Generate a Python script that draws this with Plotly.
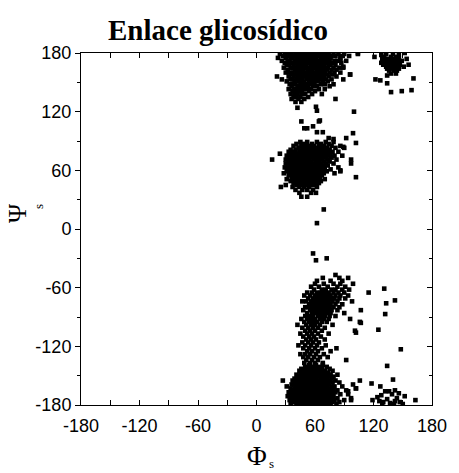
import plotly.graph_objects as go

# Glycosidic torsions (Phi_s, Psi_s) in degrees.
# Dense regions are listed row by row: (psi, [phi, phi, ...]); sparse points as (phi, psi).

top_rows = [
    (179, [24, 29, 33, 36, 40, 42, 46, 49, 51, 55, 58, 60, 64, 67, 71, 74, 79, 84, 90, 104]),
    (177, [27, 31, 34, 38, 43, 45, 48, 53, 57, 62, 65, 69, 72, 77, 81, 88, 95]),
    (175, [22, 30, 35, 37, 41, 44, 47, 50, 52, 56, 59, 61, 66, 70, 73, 76, 86]),
    (172, [26, 32, 34, 39, 42, 46, 48, 51, 54, 57, 60, 63, 65, 68, 71, 75, 80, 83, 92]),
    (170, [29, 36, 40, 44, 49, 53, 55, 58, 62, 67, 70, 73, 78, 87]),
    (168, [31, 33, 38, 42, 45, 47, 51, 56, 59, 61, 64, 66, 69, 74, 76, 81]),
    (165, [28, 35, 37, 40, 43, 46, 50, 52, 55, 58, 60, 63, 67, 71, 73, 79, 85, 89]),
    (163, [32, 39, 42, 45, 48, 53, 57, 62, 65, 69, 72, 77, 82]),
    (160, [30, 34, 37, 41, 44, 47, 49, 52, 55, 59, 61, 64, 68, 70, 75, 80, 86]),
    (158, [36, 40, 43, 46, 51, 54, 57, 60, 63, 66, 72, 78, 96]),
    (156, [21, 33, 38, 42, 45, 48, 50, 53, 56, 59, 62, 65, 69, 74, 82]),
    (153, [26, 35, 37, 41, 44, 47, 52, 55, 58, 61, 64, 67, 71, 77, 89]),
    (151, [31, 39, 43, 46, 49, 54, 57, 60, 63, 68, 73]),
    (148, [34, 37, 40, 45, 48, 51, 55, 59, 66, 70, 79]),
    (146, [36, 42, 44, 47, 50, 53, 58, 62, 75]),
    (143, [33, 38, 41, 45, 49, 52, 56, 64, 70]),
    (141, [37, 40, 43, 47, 54, 60]),
    (138, [35, 39, 42, 46, 50, 57, 67]),
    (135, [38, 41, 45, 53]),
    (133, [36, 43, 49, 81]),
    (130, [40, 46]),
]
top_points = [(42, 124), (61, 125), (62, 121), (100, 120), (96, 158), (89, 166),
              (86, 173), (104, 180)]

mid_rows = [
    (89, [45, 52, 62, 71, 79]),
    (87, [41, 49, 57, 66, 74]),
    (85, [38, 46, 53, 59, 64, 69, 77, 86]),
    (83, [43, 50, 56, 61, 67, 72, 81, 90]),
    (81, [35, 40, 47, 53, 58, 63, 66, 70, 75]),
    (79, [33, 38, 44, 49, 51, 55, 60, 65, 68, 73, 78, 84]),
    (77, [36, 41, 46, 53, 57, 62, 64, 71, 76]),
    (75, [31, 34, 39, 43, 48, 50, 55, 59, 63, 67, 69, 74, 80, 88]),
    (73, [37, 41, 45, 52, 57, 61, 65, 71, 77]),
    (71, [16, 30, 33, 39, 43, 47, 50, 54, 59, 63, 67, 73, 82, 97]),
    (69, [35, 37, 41, 45, 49, 52, 56, 61, 64, 69, 75]),
    (67, [30, 33, 39, 43, 47, 51, 54, 58, 62, 66, 71, 79]),
    (65, [35, 37, 41, 45, 49, 53, 56, 60, 64, 68, 73]),
    (63, [29, 32, 39, 43, 47, 51, 55, 58, 62, 66, 70, 84]),
    (61, [34, 37, 41, 45, 49, 53, 57, 60, 64, 68, 76]),
    (59, [31, 39, 43, 47, 51, 55, 59, 62, 66, 72, 86]),
    (57, [28, 35, 37, 41, 45, 49, 53, 57, 61, 64, 69, 80]),
    (55, [33, 39, 43, 47, 51, 55, 59, 63, 67]),
    (53, [36, 41, 45, 49, 53, 57, 61, 65, 102]),
    (51, [31, 38, 43, 47, 51, 55, 59, 63, 70]),
    (49, [35, 40, 45, 49, 53, 57, 61, 66]),
    (47, [38, 43, 47, 52, 56, 60, 64]),
    (45, [30, 41, 46, 50, 55, 59]),
    (43, [25, 37, 44, 49, 54, 62]),
    (40, [40, 47, 52, 58]),
    (37, [44, 56, 61]),
    (33, [46, 52]),
]
mid_points = [(46, 110), (49, 103), (52, 103), (58, 105), (65, 111), (62, 99), (68, 99),
              (74, 93), (79, 92), (89, 84), (92, 93), (99, 98), (102, 88), (97, 67),
              (86, 60), (69, 20), (62, 6), (24, 77), (64, 110),
              (58, -25), (61, -32), (72, -30)]

low_rows = [
    (-47, [81]),
    (-50, [68, 85, 94]),
    (-53, [62, 76, 88]),
    (-56, [60, 69, 79, 86, 99]),
    (-59, [56, 64, 73, 83, 91]),
    (-62, [59, 67, 71, 77, 81, 88, 95]),
    (-65, [52, 57, 62, 66, 70, 74, 79, 84, 90, 115]),
    (-68, [49, 55, 60, 64, 68, 72, 76, 81, 86, 94]),
    (-71, [53, 58, 62, 65, 69, 73, 77, 80, 85, 91]),
    (-74, [47, 51, 56, 60, 63, 67, 71, 74, 78, 83, 98]),
    (-77, [54, 58, 61, 65, 69, 72, 76, 81, 88]),
    (-80, [50, 53, 57, 60, 64, 67, 71, 75, 79, 85]),
    (-83, [48, 55, 59, 62, 66, 70, 73, 77, 83, 107]),
    (-86, [52, 57, 61, 64, 68, 72, 76, 90]),
    (-89, [50, 54, 58, 63, 67, 70, 75, 81]),
    (-92, [46, 52, 56, 60, 65, 69, 74, 96]),
    (-95, [49, 54, 58, 62, 67, 72, 106]),
    (-98, [42, 51, 56, 60, 65, 78]),
    (-101, [47, 53, 58, 63, 70]),
    (-104, [50, 55, 60, 67, 101]),
    (-107, [45, 52, 57, 63, 74]),
    (-110, [48, 54, 59, 66]),
    (-113, [51, 56, 61, 70]),
    (-116, [47, 53, 58, 64]),
    (-119, [43, 50, 56, 62, 71]),
    (-122, [48, 54, 60, 67, 82]),
    (-125, [52, 57, 63, 76]),
    (-128, [45, 50, 55, 61, 69]),
    (-131, [48, 53, 59, 65, 73]),
    (-134, [51, 57, 63, 92]),
    (-137, [49, 55, 60, 68]),
]
low_points = [(131, -61), (133, -76), (142, -73), (132, -87), (125, -103),
              (107, -96), (102, -106), (148, -123), (134, -140)]

bottom_rows = [
    (-139, [54, 61, 68]),
    (-141, [50, 57, 64, 72]),
    (-143, [46, 53, 59, 62, 67, 75]),
    (-145, [44, 49, 55, 58, 64, 70, 78]),
    (-147, [47, 51, 54, 60, 66, 69, 73]),
    (-149, [41, 45, 50, 53, 57, 62, 65, 71, 76, 83]),
    (-151, [43, 48, 55, 59, 63, 68, 74, 79]),
    (-153, [39, 42, 46, 51, 54, 58, 61, 66, 70, 72, 77]),
    (-155, [27, 37, 44, 48, 50, 53, 57, 60, 64, 67, 71, 75, 81, 106]),
    (-157, [40, 42, 46, 51, 55, 58, 62, 65, 69, 73, 78, 85]),
    (-159, [36, 38, 44, 48, 50, 53, 56, 60, 63, 67, 71, 74, 99]),
    (-161, [31, 41, 43, 46, 51, 55, 58, 61, 65, 69, 72, 77, 80, 88]),
    (-163, [35, 39, 45, 48, 50, 53, 57, 60, 63, 66, 70, 74, 79, 102]),
    (-165, [37, 42, 44, 47, 52, 55, 59, 62, 65, 68, 72, 76, 83, 92]),
    (-167, [33, 40, 46, 49, 51, 54, 57, 61, 64, 67, 70, 74, 78, 81]),
    (-169, [36, 38, 43, 45, 48, 53, 56, 59, 62, 66, 69, 72, 76, 86, 94]),
    (-171, [32, 41, 44, 47, 50, 52, 55, 58, 61, 64, 68, 71, 75, 79]),
    (-173, [35, 38, 42, 46, 49, 54, 57, 60, 63, 66, 70, 73, 77, 83, 97]),
    (-175, [34, 40, 44, 47, 51, 53, 56, 59, 62, 65, 68, 72, 75, 80, 90]),
    (-177, [37, 39, 42, 45, 49, 52, 55, 58, 61, 64, 67, 70, 74, 78, 85]),
    (-179, [35, 41, 43, 47, 50, 54, 57, 60, 63, 66, 69, 72, 76, 82]),
]

side_rows = [
    (176, [131, 138, 143]),
    (174, [129, 134, 140, 146]),
    (172, [132, 136, 139, 142, 149]),
    (170, [128, 133, 137, 141, 145]),
    (168, [130, 135, 138, 143, 147]),
    (166, [133, 136, 140, 144, 151]),
    (164, [134, 138, 142, 146]),
    (162, [136, 141, 144]),
    (159, [138, 143]),
]
side_points = [(121, 176), (122, 153), (127, 152), (134, 149), (138, 140), (149, 141),
               (159, 142), (161, 154), (156, 168), (154, 174), (152, 180), (134, 157),
               (128, 178), (133, 179), (140, 179), (146, 178),
               (119, -175), (124, -172), (128, -170), (132, -166), (136, -166),
               (139, -169), (142, -165), (146, -168), (144, -173), (142, -176),
               (147, -177), (152, -171), (163, -175), (126, -176), (130, -177),
               (134, -174), (137, -178), (129, -179), (150, -179), (141, -179),
               (118, -158), (127, -161), (140, -154), (102, -163), (94, -166), (97, -175)]

tick_vals = [-180, -120, -60, 0, 60, 120, 180]
tick_text = ["-180", "-120", "-60", "0", "60", "120", "180"]


def expand(rows, points):
    phi, psi = [], []
    for y, xs in rows:
        phi.extend(xs)
        psi.extend([y] * len(xs))
    for x, y in points:
        phi.append(x)
        psi.append(y)
    return phi, psi


phi_all, psi_all = [], []
for rows, pts in [(top_rows, top_points), (mid_rows, mid_points), (low_rows, low_points),
                  (bottom_rows, []), (side_rows, side_points)]:
    a, b = expand(rows, pts)
    phi_all += a
    psi_all += b

fig = go.Figure()
fig.add_trace(go.Scatter(
    x=phi_all, y=psi_all, mode="markers",
    marker=dict(symbol="square", size=4.6, color="black", line=dict(width=0)),
    showlegend=False, hoverinfo="skip",
))
# empty trace that carries the right-hand axis
fig.add_trace(go.Scatter(x=[None], y=[None], yaxis="y2", showlegend=False, hoverinfo="skip"))

tick_font = dict(family="Liberation Sans, Arial", size=18, color="black")

fig.update_layout(
    width=459, height=473,
    margin=dict(l=81, r=18, t=53, b=68),
    paper_bgcolor="white", plot_bgcolor="white",
    xaxis=dict(range=[-180, 180], tickvals=tick_vals, ticktext=tick_text,
               ticks="inside", ticklen=5, tickwidth=1, tickcolor="black",
               showline=True, linecolor="black", linewidth=1, mirror="allticks",
               showgrid=False, zeroline=False, tickfont=tick_font, ticklabelstandoff=4,
               minor=dict(dtick=30, tick0=-180, ticks="inside", ticklen=3,
                          tickcolor="black", showgrid=False)),
    yaxis=dict(range=[-180, 180], tickvals=tick_vals, ticktext=tick_text,
               ticks="outside", ticklen=5, tickwidth=1, tickcolor="black",
               showline=True, linecolor="black", linewidth=1, mirror=False,
               showgrid=False, zeroline=False, tickfont=tick_font,
               minor=dict(dtick=30, tick0=-180, ticks="outside", ticklen=3,
                          tickcolor="black", showgrid=False)),
    yaxis2=dict(range=[-180, 180], tickvals=tick_vals, overlaying="y", side="right",
                ticks="inside", ticklen=5, tickwidth=1, tickcolor="black",
                showline=True, linecolor="black", linewidth=1, showticklabels=False,
                showgrid=False, zeroline=False,
                minor=dict(dtick=30, tick0=-180, ticks="inside", ticklen=3,
                           tickcolor="black", showgrid=False)),
)

serif = "Liberation Serif, Times New Roman"
fig.add_annotation(text="<b>Enlace glicosídico</b>", xref="paper", yref="paper",
                   x=(221 - 81) / 360, y=1, yshift=23, xanchor="center", yanchor="middle",
                   showarrow=False, font=dict(family=serif, size=29, color="black"))
fig.add_annotation(text="Φ", xref="paper", yref="paper", x=0.5, y=0, yshift=-51,
                   xanchor="center", yanchor="middle", showarrow=False,
                   font=dict(family=serif, size=27, color="black"))
fig.add_annotation(text="s", xref="paper", yref="paper", x=(276 - 81) / 360, y=0,
                   yshift=-58, xanchor="center", yanchor="middle", showarrow=False,
                   font=dict(family=serif, size=13, color="black"))
fig.add_annotation(text="Ψ", xref="paper", yref="paper", x=0, xshift=-64,
                   y=(405 - 213) / 352, xanchor="center", yanchor="middle",
                   textangle=-90, showarrow=False,
                   font=dict(family=serif, size=26, color="black"))
fig.add_annotation(text="s", xref="paper", yref="paper", x=0, xshift=-43,
                   y=(405 - 207) / 352, xanchor="center", yanchor="middle",
                   textangle=-90, showarrow=False,
                   font=dict(family=serif, size=13, color="black"))

fig.write_html("out.html")
